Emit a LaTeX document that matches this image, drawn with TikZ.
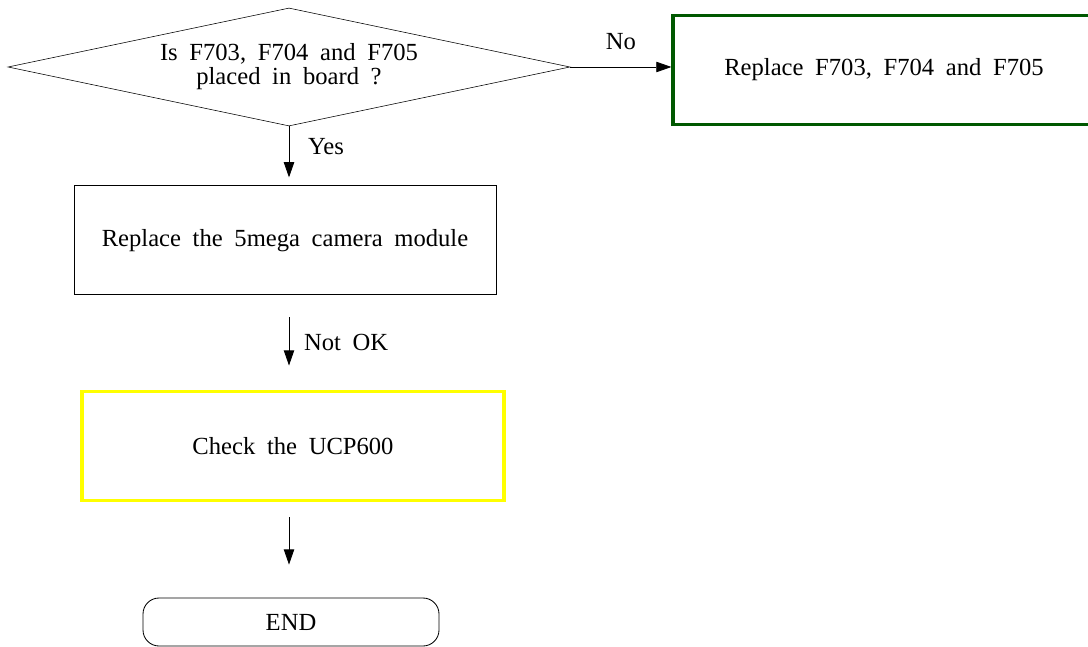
\documentclass[tikz,border=0pt]{standalone}
\usepackage{fontspec}
\setmainfont{Liberation Serif}[WordSpace=1.9]
\usepackage{tikz}
\usetikzlibrary{shapes.geometric, arrows.meta}

\definecolor{boxgreen}{RGB}{0,88,0}
\definecolor{boxyellow}{RGB}{255,255,0}

\begin{document}
\begin{tikzpicture}[
  box/.style={rectangle, draw, minimum width=10.55cm, minimum height=2.725cm,
              align=center, font=\fontsize{17.5}{20}\selectfont},
  decision/.style={diamond, draw, aspect=4.76, line width=0.4pt, inner sep=0pt, minimum width=14.05cm,
              minimum height=2.95cm, align=center, font=\fontsize{17.5}{17}\selectfont},
  arrow/.style={-{Triangle[length=3.8mm,width=2.6mm]}, line width=0.6pt},
  lbl/.style={font=\fontsize{17.5}{20}\selectfont}
]
\clip (0,0) rectangle (27.2,-16.175);
\useasboundingbox (0,0) rectangle (27.2,-16.175);

%% ---- Decision ----
\node[decision] at (7.225,-1.675) (dec) {Is F703, F704 and F705\\placed in board ?};

%% ---- Boxes ----
\node[box, draw=boxgreen, line width=2.2pt] at (22.1,-1.74) (rf)  {Replace F703, F704 and F705};
\node[box, line width=0.7pt] at (7.125,-6.01) (cam) {Replace the 5mega camera module};
\node[box, draw=boxyellow, line width=2.8pt] at (7.325,-11.15) (ucp) {Check the UCP600};
\node[box, rounded corners=0.4cm, line width=0.6pt, minimum width=7.4cm, minimum height=1.2cm]
  at (7.275,-15.55) (end) {END};

%% ---- Arrows ----
\draw[arrow] (dec.east) -- node[lbl, above=0.3cm]{No} (dec.east -| rf.west);
\draw[arrow, shorten >=0.2cm] (dec.south) -- node[lbl, right=0.35cm, yshift=0.22cm]{Yes} (dec.south |- cam.north);
\draw[arrow, shorten <=0.55cm, shorten >=0.6cm] (dec.south |- cam.south) -- node[lbl, right=0.25cm]{Not OK} (dec.south |- ucp.north);
\draw[arrow, shorten <=0.375cm, shorten >=0.825cm] (dec.south |- ucp.south) -- (dec.south |- end.north);
\end{tikzpicture}
\end{document}
